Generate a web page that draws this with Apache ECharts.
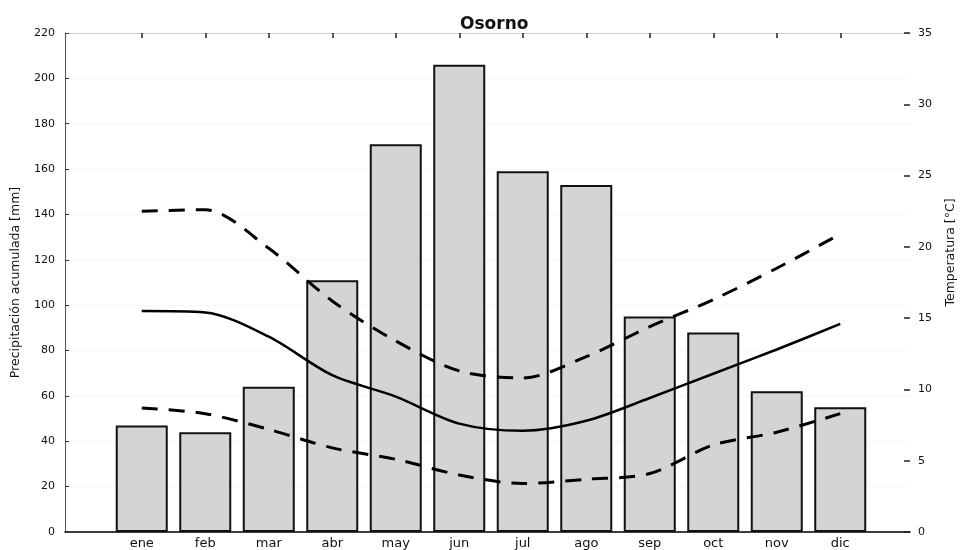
<!DOCTYPE html>
<html>
<head>
<meta charset="utf-8">
<script src="https://cdn.jsdelivr.net/npm/echarts@6/dist/echarts.min.js"></script>
<style>
  html, body { margin: 0; padding: 0; background: #ffffff; }
  #chart { width: 965px; height: 550px; }
</style>
</head>
<body>
<div id="chart"></div>
<script>
// Climograma de Osorno: precipitación mensual (barras) y temperaturas (líneas)
const months = ['ene', 'feb', 'mar', 'abr', 'may', 'jun', 'jul', 'ago', 'sep', 'oct', 'nov', 'dic'];
const precipitation = [47, 44, 64, 111, 171, 206, 159, 153, 95, 88, 62, 55];
const tempMax  = [22.5, 22.6, 19.9, 16.2, 13.4, 11.3, 10.8, 12.3, 14.4, 16.3, 18.5, 20.9];
const tempMean = [15.5, 15.4, 13.7, 11.0, 9.5, 7.6, 7.1, 7.8, 9.4, 11.1, 12.8, 14.6];
const tempMin  = [8.7, 8.3, 7.2, 5.9, 5.1, 4.0, 3.4, 3.7, 4.1, 6.1, 7.0, 8.3];
const precipTicks = [0, 20, 40, 60, 80, 100, 120, 140, 160, 180, 200, 220];
const tempTicks = [0, 5, 10, 15, 20, 25, 30, 35];

const FONT = 'DejaVu Sans';
const INK = '#111111';

const precipRange = {
  min: precipTicks[0],
  max: precipTicks[precipTicks.length - 1],
  interval: precipTicks[1] - precipTicks[0]
};
const tempRange = {
  min: tempTicks[0],
  max: tempTicks[tempTicks.length - 1],
  interval: tempTicks[1] - tempTicks[0]
};

const chart = echarts.init(document.getElementById('chart'), null, { renderer: 'canvas' });

const hidden = {
  axisLine: { show: false, onZero: false }, axisTick: { show: false },
  axisLabel: { show: false }, splitLine: { show: false }
};

const option = {
  backgroundColor: '#ffffff',
  animation: false,
  title: {
    text: 'Osorno',
    left: 455,
    top: 11,
    textStyle: { fontFamily: FONT, fontWeight: 'bold', fontSize: 17, color: INK }
  },
  grid: [
    // outer frame carrying the visible value axes
    { left: 65, right: 48, top: 33, bottom: 18 },
    // inner plotting band holding the monthly categories
    { left: 110, right: 93, top: 33, bottom: 18 }
  ],
  xAxis: [
    {
      gridIndex: 0, type: 'value', min: 0, max: 1, position: 'bottom',
      axisLine: { show: true, onZero: false, lineStyle: { color: '#000', width: 1.5 } },
      axisTick: { show: false }, axisLabel: { show: false }, splitLine: { show: false }
    },
    {
      gridIndex: 0, type: 'value', min: 0, max: 1, position: 'top',
      axisLine: { show: true, onZero: false, lineStyle: { color: '#c4c4c4', width: 1, type: 'dotted' } },
      axisTick: { show: false }, axisLabel: { show: false }, splitLine: { show: false }
    },
    {
      gridIndex: 1, type: 'category', data: months, position: 'bottom',
      axisLine: { show: false, onZero: false },
      axisTick: { show: true, inside: true, alignWithLabel: true, length: 5,
                  lineStyle: { color: '#222', width: 1.5 } },
      axisLabel: { color: INK, fontFamily: FONT, fontSize: 13, margin: 5 },
      splitLine: { show: false }
    },
    {
      gridIndex: 1, type: 'category', data: months, position: 'top',
      axisLine: { show: false, onZero: false },
      axisTick: { show: true, inside: true, alignWithLabel: true, length: 5,
                  lineStyle: { color: '#222', width: 1.5 } },
      axisLabel: { show: false }, splitLine: { show: false }
    }
  ],
  yAxis: [
    {
      gridIndex: 0, type: 'value', position: 'left',
      min: precipRange.min, max: precipRange.max, interval: precipRange.interval,
      name: 'Precipitación acumulada [mm]', nameLocation: 'middle', nameGap: 43,
      nameTextStyle: { color: INK, fontFamily: FONT, fontSize: 12.5 },
      axisLine: { show: true, onZero: false, lineStyle: { color: '#555', width: 1 } },
      axisTick: { show: true, inside: true, length: 4, lineStyle: { color: '#333' } },
      axisLabel: { color: INK, fontFamily: FONT, fontSize: 11, margin: 10 },
      splitLine: { show: true, lineStyle: { color: '#ececec', type: 'dotted' } }
    },
    {
      gridIndex: 0, type: 'value', position: 'right',
      min: tempRange.min, max: tempRange.max, interval: tempRange.interval,
      name: 'Temperatura [°C]', nameLocation: 'middle', nameGap: 34,
      nameTextStyle: { color: INK, fontFamily: FONT, fontSize: 12.5, padding: [0, 0, 0, 60] },
      axisLine: { show: false, onZero: false },
      axisTick: { show: true, inside: true, length: 6, lineStyle: { color: '#222', width: 1.5 } },
      axisLabel: { color: INK, fontFamily: FONT, fontSize: 11, margin: 8 },
      splitLine: { show: false }
    },
    Object.assign({ gridIndex: 1, type: 'value', min: precipRange.min, max: precipRange.max }, hidden),
    Object.assign({ gridIndex: 1, type: 'value', min: tempRange.min, max: tempRange.max }, hidden)
  ],
  series: [
    {
      name: 'Precipitación',
      type: 'bar',
      xAxisIndex: 2, yAxisIndex: 2,
      data: precipitation,
      barWidth: 52,
      itemStyle: { color: '#d4d4d4', borderColor: '#111', borderWidth: 2 },
      z: 2
    },
    {
      name: 'Máxima',
      type: 'line',
      xAxisIndex: 2, yAxisIndex: 3,
      data: tempMax,
      smooth: 0.3, symbol: 'none',
      lineStyle: { color: '#000', width: 3, type: [16, 11] },
      z: 3
    },
    {
      name: 'Media',
      type: 'line',
      xAxisIndex: 2, yAxisIndex: 3,
      data: tempMean,
      smooth: 0.3, symbol: 'none',
      lineStyle: { color: '#000', width: 2.5 },
      z: 3
    },
    {
      name: 'Mínima',
      type: 'line',
      xAxisIndex: 2, yAxisIndex: 3,
      data: tempMin,
      smooth: 0.3, symbol: 'none',
      lineStyle: { color: '#000', width: 3, type: [16, 11] },
      z: 3
    }
  ]
};

chart.setOption(option);
</script>
</body>
</html>
